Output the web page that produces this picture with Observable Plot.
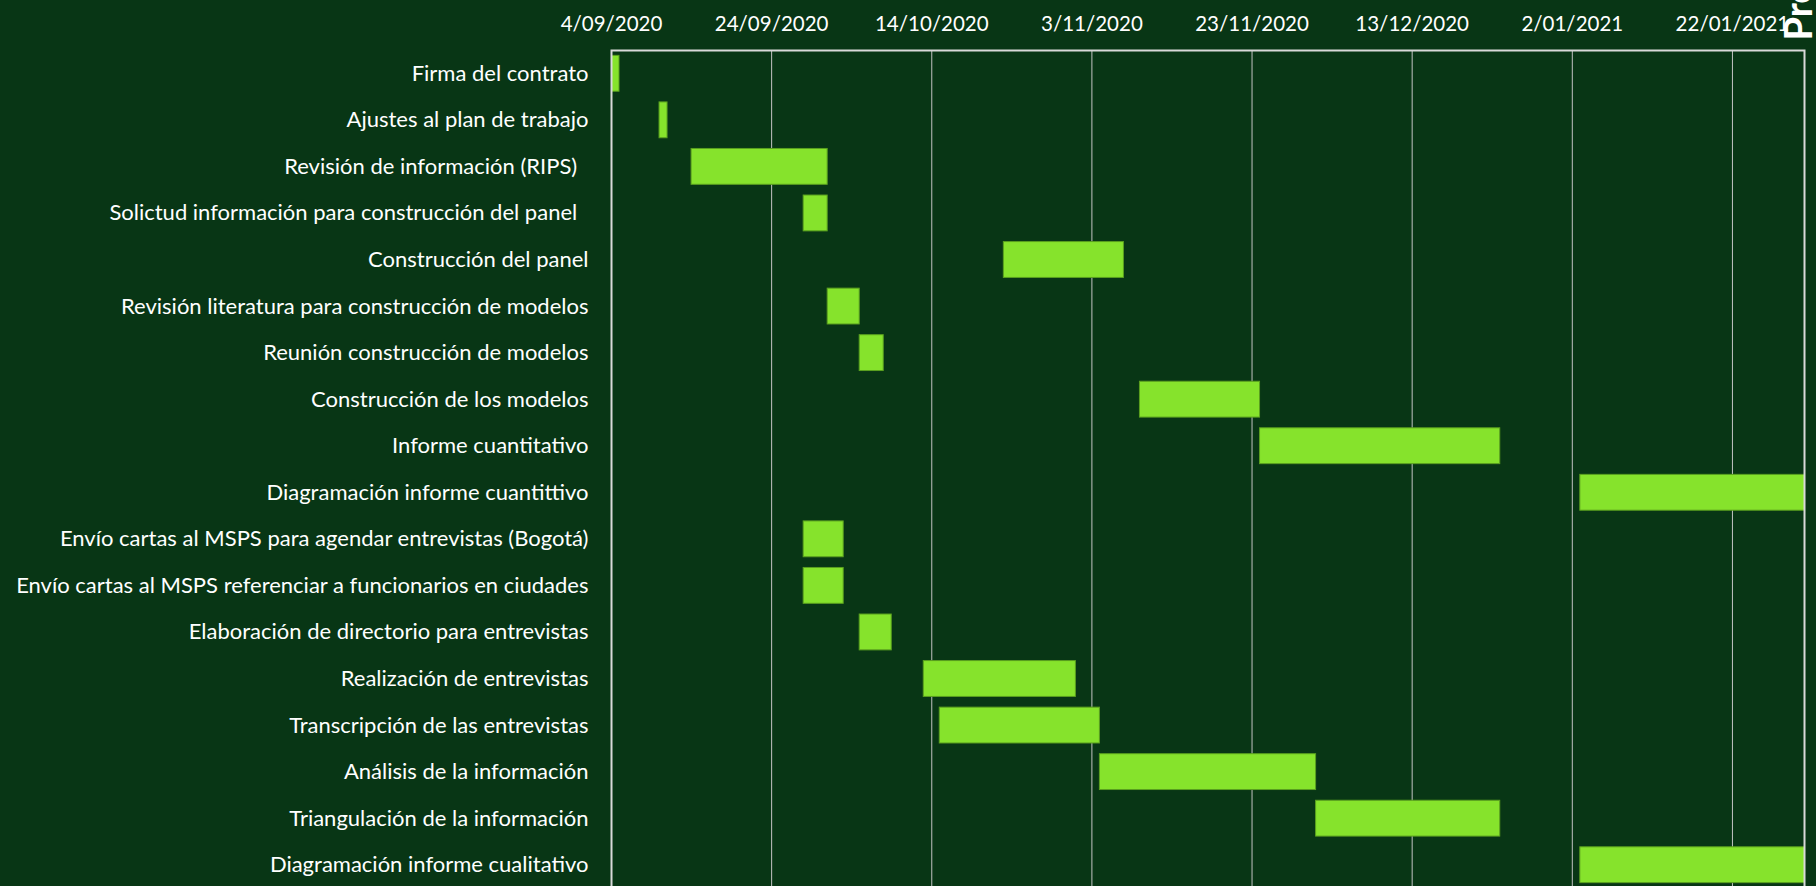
<!DOCTYPE html>
<html>
<head>
<meta charset="utf-8">
<script src="https://cdn.jsdelivr.net/npm/d3@7"></script>
<script src="https://cdn.jsdelivr.net/npm/@observablehq/plot@0.6"></script>
<style>
  html, body { margin: 0; padding: 0; background: #083615; overflow: hidden; }
  #chart svg { overflow: hidden; display: block; }
</style>
</head>
<body>
<div id="chart"></div>
<script>
// ---- data ----
const tasks = [
  "Firma del contrato",
  "Ajustes al plan de trabajo",
  "Revisión de información (RIPS)\u00A0\u00A0",
  "Solictud información para construcción del panel\u00A0\u00A0",
  "Construcción del panel",
  "Revisión literatura para construcción de modelos",
  "Reunión construcción de modelos",
  "Construcción de los modelos",
  "Informe cuantitativo",
  "Diagramación informe cuantittivo",
  "Envío cartas al MSPS para agendar entrevistas (Bogotá)",
  "Envío cartas al MSPS referenciar a funcionarios en ciudades",
  "Elaboración de directorio para entrevistas",
  "Realización de entrevistas",
  "Transcripción de las entrevistas",
  "Análisis de la información",
  "Triangulación de la información",
  "Diagramación informe cualitativo"
];
const startDates = [
  "4/09/2020", "10/09/2020", "14/09/2020", "28/09/2020", "23/10/2020",
  "1/10/2020", "5/10/2020", "9/11/2020", "24/11/2020", "3/01/2021",
  "28/09/2020", "28/09/2020", "5/10/2020", "13/10/2020", "15/10/2020",
  "4/11/2020", "1/12/2020", "3/01/2021"
];
const durations = [1, 1, 17, 3, 15, 4, 3, 15, 30, 29, 5, 5, 4, 19, 20, 27, 23, 29];
const tickLabels = ["4/09/2020", "24/09/2020", "14/10/2020", "3/11/2020", "23/11/2020", "13/12/2020", "2/01/2021", "22/01/2021"];
const axisMin = "4/09/2020";
const axisMax = "31/01/2021";
const titleText = "Programación";

// ---- build ----
const parse = d3.utcParse("%d/%m/%Y");
const fmt = d3.utcFormat("%-d/%m/%Y");
const rows = tasks.map((t, i) => {
  const s = parse(startDates[i]);
  return { task: t, start: s, end: d3.utcDay.offset(s, durations[i]) };
});
const ticks = tickLabels.map(parse);

const chart = Plot.plot({
  width: 1816,
  height: 886,
  marginTop: 50,
  marginBottom: -2,
  marginLeft: 611,
  marginRight: 12,
  style: { background: "#083615", color: "white", fontFamily: "Lato, 'Open Sans', sans-serif", fontSize: "20px" },
  x: { type: "utc", domain: [parse(axisMin), parse(axisMax)], axis: null },
  y: { domain: tasks, paddingInner: 0.23, paddingOuter: 0.115, round: false, axis: null },
  marks: [
    Plot.gridX(ticks, { stroke: "#c4c4c4", strokeOpacity: 1, strokeWidth: 1 }),
    Plot.barX(rows, { y: "task", x1: "start", x2: "end", fill: "#86e32c", stroke: "#5a9f1f", strokeWidth: 1, clip: true }),
    Plot.frame({ stroke: "#d9d9d9", strokeWidth: 2 }),
    Plot.axisX(ticks, { anchor: "top", tickSize: 0, tickPadding: 20, tickFormat: fmt, fontSize: 20.5, fill: "white" }),
    Plot.axisY({ tickSize: 0, tickPadding: 23, fontSize: 22, fill: "white", label: null }),
    Plot.text([titleText], { frameAnchor: "top-right", dx: 7, dy: -10, rotate: -90, textAnchor: "start", lineAnchor: "bottom", fontSize: 38, fontWeight: "bold", fill: "white" })
  ]
});
document.getElementById("chart").appendChild(chart);
</script>
</body>
</html>
